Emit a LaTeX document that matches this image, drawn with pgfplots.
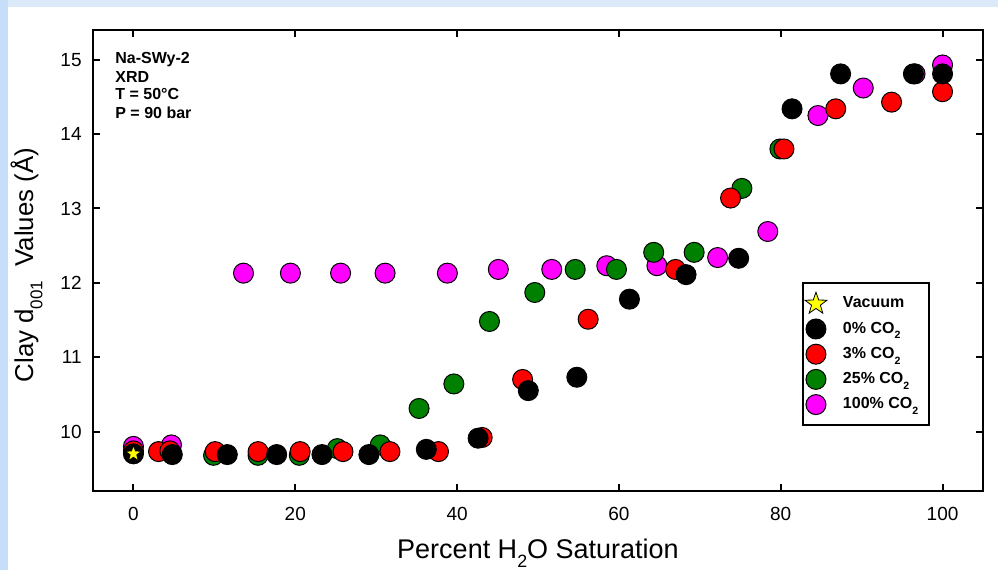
\documentclass[border=0pt]{standalone}
\usepackage{fontspec}
\setmainfont{Liberation Sans}
\usepackage{graphicx}
\usepackage{pgfplots}
\pgfplotsset{compat=1.18}
\definecolor{bgtop}{RGB}{220,233,248}
\definecolor{bgleft}{RGB}{198,222,248}
\definecolor{ptred}{RGB}{255,0,0}
\definecolor{ptgreen}{RGB}{0,128,0}
\definecolor{ptmag}{RGB}{255,0,255}
\definecolor{ptyel}{RGB}{255,255,0}
\newcommand\lsub[1]{\raisebox{-0.36em}[0pt][0pt]{\scalebox{0.66}{#1}}}

\pgfdeclareplotmark{fstar}{%
  \pgfpathmoveto{\pgfpointpolar{90}{\pgfplotmarksize}}%
  \pgfpathlineto{\pgfpointpolar{126}{0.40\pgfplotmarksize}}%
  \pgfpathlineto{\pgfpointpolar{162}{\pgfplotmarksize}}%
  \pgfpathlineto{\pgfpointpolar{198}{0.40\pgfplotmarksize}}%
  \pgfpathlineto{\pgfpointpolar{234}{\pgfplotmarksize}}%
  \pgfpathlineto{\pgfpointpolar{270}{0.40\pgfplotmarksize}}%
  \pgfpathlineto{\pgfpointpolar{306}{\pgfplotmarksize}}%
  \pgfpathlineto{\pgfpointpolar{342}{0.40\pgfplotmarksize}}%
  \pgfpathlineto{\pgfpointpolar{18}{\pgfplotmarksize}}%
  \pgfpathlineto{\pgfpointpolar{54}{0.40\pgfplotmarksize}}%
  \pgfpathclose
  \pgfusepathqfillstroke}

\pgfplotsset{
  circ/.style={only marks, mark=*, mark size=5pt,
    mark options={draw=black, line width=0.5pt, fill=#1},
    legend image code/.code={%
      \path (-6pt,-5.25pt) (13pt,5.25pt);
      \draw[mark=*, mark size=5pt, mark options={draw=black, line width=0.5pt, fill=#1}] plot coordinates {(0pt,0pt)};}},
  vstar/.style={only marks, mark=fstar, mark size=4.3pt,
    mark options={draw=black, line width=0.4pt, fill=ptyel},
    legend image code/.code={%
      \path (-6pt,-5.25pt) (13pt,5.25pt);
      \draw[mark=fstar, mark size=5.8pt, mark options={draw=black, line width=0.4pt, fill=ptyel}] plot coordinates {(0pt,0pt)};}},
}

\begin{document}
\begin{tikzpicture}
\useasboundingbox (0,0) rectangle (499pt,285pt);
\fill[bgtop] (0,0) rectangle (499pt,285pt);
\fill[white] (4pt,0) rectangle (499pt,281.5pt);
\fill[bgleft] (0,0) rectangle (4pt,285pt);
\begin{axis}[
  at={(46.5pt,39.5pt)}, anchor=south west,
  scale only axis, width=445pt, height=230.5pt,
  xmin=-5, xmax=105, ymin=9.2, ymax=15.4,
  xtick={0,20,40,60,80,100}, ytick={10,11,12,13,14,15},
  tick align=inside, xtick pos=both, ytick pos=both,
  major tick length=3.5pt,
  every tick/.style={black, line width=1pt},
  axis line style={line width=1pt},
  tick label style={font=\fontsize{9.5}{11}\selectfont},
  /pgf/number format/assume math mode=true,
  xticklabel style={inner sep=0pt, anchor=north, yshift=-8pt},
  yticklabel style={inner sep=0pt, anchor=east, xshift=-5.5pt},
  xlabel={Percent H\lsub{2}O Saturation},
  ylabel={Clay d\lsub{001}\ \ Values (Å)},
  every axis x label/.style={at={(axis description cs:0.5,0)}, anchor=base, yshift=-33.5pt, font=\fontsize{13.5}{16}\selectfont},
  every axis y label/.style={at={(axis description cs:-0.0674,0.49)}, anchor=base, rotate=90, font=\fontsize{12.9}{15}\selectfont},
  legend style={at={(axis description cs:0.7966,0.4534)}, anchor=north west, draw=black, line width=1pt,
    inner xsep=0pt, inner ysep=4.6pt, font=\bfseries\fontsize{8}{9.6}\selectfont, row sep=1.1pt,
    nodes={inner sep=0pt}},
  legend cell align=left,
  reverse legend,
]
\addplot[circ=ptmag] coordinates {
(0,9.80) (4.7,9.82) (13.6,12.13) (19.4,12.13) (25.6,12.13) (31.1,12.13) (38.8,12.13)
(45.1,12.18) (51.7,12.18) (58.5,12.23) (64.7,12.23) (72.2,12.34) (78.4,12.69)
(84.6,14.25) (90.2,14.62) (96.6,14.81) (100,14.93)};
\addlegendentry{100\% CO\lsub{2}\hspace*{5.5pt}}
\addplot[circ=ptgreen] coordinates {
(9.9,9.68) (15.4,9.68) (20.5,9.68) (25.2,9.77) (30.5,9.82) (35.3,10.31) (39.6,10.64)
(44.0,11.48) (49.6,11.87) (54.6,12.18) (59.7,12.18) (64.3,12.41) (69.3,12.41)
(75.2,13.27) (79.9,13.80)};
\addlegendentry{25\% CO\lsub{2}}
\addplot[circ=ptred] coordinates {
(0,9.74) (3.1,9.73) (4.5,9.74) (10.1,9.73) (15.4,9.73) (20.6,9.73) (25.9,9.73)
(31.7,9.73) (37.7,9.73) (43.1,9.92) (48.1,10.70) (56.2,11.51) (67.0,12.18)
(73.8,13.14) (80.4,13.80) (86.8,14.34) (93.7,14.43) (100,14.57)};
\addlegendentry{3\% CO\lsub{2}}
\addplot[circ=black] coordinates {
(0,9.70) (4.8,9.69) (11.6,9.69) (17.7,9.69) (23.3,9.69) (29.1,9.69) (36.2,9.76)
(42.6,9.91) (48.8,10.55) (54.8,10.73) (61.3,11.78) (68.3,12.11) (74.8,12.33)
(81.4,14.34) (87.4,14.81) (96.4,14.81) (100,14.81)};
\addlegendentry{0\% CO\lsub{2}}
\addplot[vstar] coordinates {(0,9.70)};
\addlegendentry{Vacuum}
\begin{scope}[every node/.style={anchor=base west, inner sep=0pt, font=\bfseries\fontsize{8}{9.6}\selectfont}]
\node at (axis description cs:0.0247,0.9284) {Na-SWy-2};
\node at (axis description cs:0.0247,0.8872) {XRD};
\node at (axis description cs:0.0247,0.8482) {T = 50°C};
\node at (axis description cs:0.0247,0.8091) {P = 90 bar};
\end{scope}
\end{axis}
\end{tikzpicture}
\end{document}
